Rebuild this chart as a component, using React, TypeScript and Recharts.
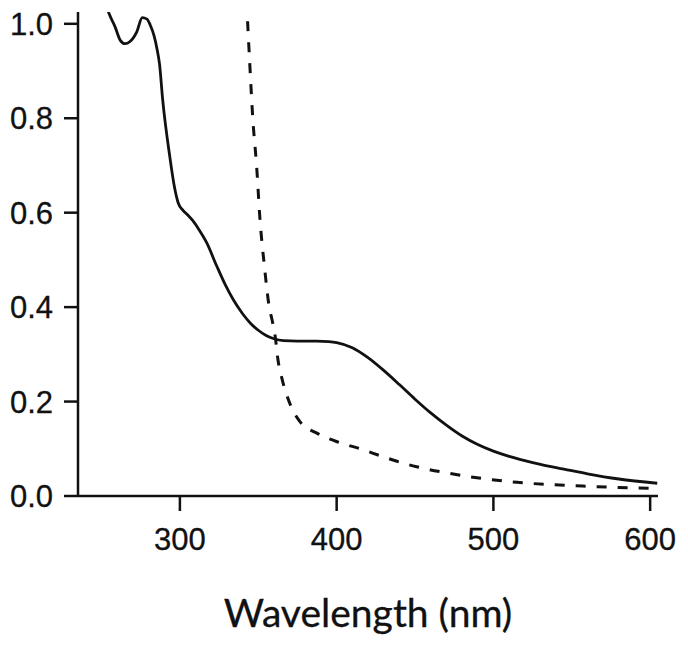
import { LineChart, Line, XAxis, YAxis } from 'recharts'

// solid trace: wavelength (nm) and absorbance
const solidWl = [252, 255, 258.6, 262, 265, 268, 272.5, 276, 279, 281, 283.5, 285.5, 287, 289, 293.5, 296.5, 299, 302, 305, 308, 312, 317, 323.5, 329, 334, 340, 345, 350, 355, 360, 366, 375, 387, 395, 400, 410, 420, 430, 440, 450, 460, 470, 480, 490, 500, 510, 520, 530, 545, 560, 580, 604.5]
const solidAbs = [1.05, 1.02, 0.994, 0.965, 0.958, 0.962, 0.983, 1.013, 1.01, 0.998, 0.975, 0.945, 0.915, 0.84, 0.72, 0.655, 0.62, 0.605, 0.595, 0.584, 0.565, 0.537, 0.487, 0.447, 0.416, 0.386, 0.366, 0.351, 0.34, 0.333, 0.329, 0.328, 0.328, 0.327, 0.325, 0.314, 0.293, 0.266, 0.236, 0.205, 0.176, 0.15, 0.127, 0.109, 0.095, 0.084, 0.075, 0.067, 0.057, 0.047, 0.036, 0.027]

// dashed trace
const dashedWl = [342.5, 344.5, 346.5, 349, 351, 354, 357, 359, 361, 362.5, 365, 369, 376, 388, 402, 415, 428, 438, 451, 472, 493, 515, 557, 603]
const dashedAbs = [1.05, 0.92, 0.8, 0.696, 0.59, 0.484, 0.4, 0.37, 0.333, 0.29, 0.25, 0.206, 0.16, 0.132, 0.113, 0.1, 0.085, 0.074, 0.062, 0.048, 0.037, 0.029, 0.021, 0.016]

const xTicks = [300, 400, 500, 600]
const yTicks = [0, 0.2, 0.4, 0.6, 0.8, 1.0]

const solidData = solidWl.map((wl, i) => ({ wl, abs: solidAbs[i] }))
const dashedData = dashedWl.map((wl, i) => ({ wl, abs: dashedAbs[i] }))

const INK = '#111'
const TICK_FONT = '"Liberation Sans", Arial, sans-serif'

function XTick({ x, y, payload }: any) {
  return (
    <text x={x} y={y + 37} textAnchor="middle" fontFamily={TICK_FONT} fontSize={31} fill={INK} stroke={INK} strokeWidth={0.3}>
      {payload.value}
    </text>
  )
}

function YTick({ x, y, payload }: any) {
  return (
    <text x={x} y={y + 11} textAnchor="end" fontFamily={TICK_FONT} fontSize={31} fill={INK} stroke={INK} strokeWidth={0.3}>
      {payload.value.toFixed(1)}
    </text>
  )
}

function AxisTitle({ viewBox }: any) {
  const { x, y, width } = viewBox
  return (
    <text
      x={x + width / 2}
      y={y + 131}
      textAnchor="middle"
      fontFamily="Lato, 'Open Sans', sans-serif"
      fontSize={39}
      fill={INK}
      stroke={INK}
      strokeWidth={0.3}
    >
      Wavelength (nm)
    </text>
  )
}

export default function App() {
  return (
    <LineChart width={680} height={641} margin={{ top: 4, right: 30, left: 0, bottom: 0 }}>
      <XAxis
        type="number"
        dataKey="wl"
        domain={[235, 605]}
        ticks={xTicks}
        interval={0}
        allowDataOverflow
        height={153}
        tickSize={15}
        tickMargin={2}
        tick={<XTick />}
        axisLine={{ stroke: INK, strokeWidth: 2.5 }}
        tickLine={{ stroke: INK, strokeWidth: 2.5 }}
        label={<AxisTitle />}
      />
      <YAxis
        type="number"
        domain={[0, 1.025]}
        ticks={yTicks}
        interval={0}
        allowDataOverflow
        width={70}
        tickSize={14}
        tickMargin={11}
        tick={<YTick />}
        axisLine={{ stroke: INK, strokeWidth: 2.5 }}
        tickLine={{ stroke: INK, strokeWidth: 2.5 }}
      />
      <Line
        data={solidData}
        dataKey="abs"
        type="monotone"
        stroke={INK}
        strokeWidth={2.8}
        dot={false}
        isAnimationActive={false}
      />
      <Line
        data={dashedData}
        dataKey="abs"
        type="monotone"
        stroke={INK}
        strokeWidth={3}
        strokeDasharray="10 11"
        dot={false}
        isAnimationActive={false}
      />
    </LineChart>
  )
}
